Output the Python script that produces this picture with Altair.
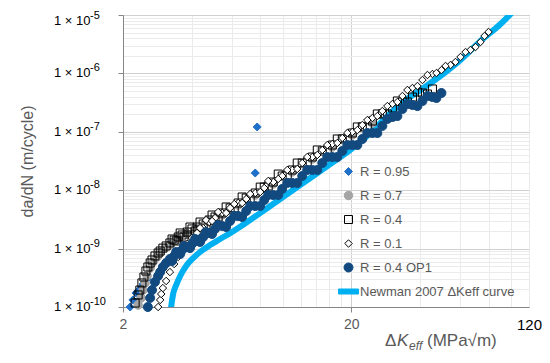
import altair as alt
import pandas as pd

series_names = ["R = 0.95", "R = 0.7", "R = 0.4", "R = 0.1", "R = 0.4 OP1",
                "Newman 2007 ΔKeff curve"]

# ---- data (ΔKeff in MPa√m, da/dN in m/cycle) ----
r095_dk = [2.15, 2.21, 2.28, 2.37, 2.45, 2.55, 2.65, 2.82, 2.99, 3.21, 3.49, 3.82,
           4.22, 4.77, 5.44, 6.39, 7.59, 7.74, 7.59, 9.10, 11.02]
r095_da = [1.0e-10, 1.32e-10, 1.74e-10, 2.03e-10, 2.48e-10, 3.02e-10, 5.04e-10,
           6.90e-10, 9.46e-10, 1.20e-9, 1.52e-9, 1.85e-9, 2.25e-9, 2.97e-9, 3.91e-9,
           5.80e-9, 1.97e-8, 1.21e-7, 8.61e-9, 1.33e-8, 2.13e-8]

r07_dk = [2.33, 2.40, 2.45, 2.50, 2.55, 2.63, 2.71, 2.82, 2.91, 3.06, 3.21, 3.49,
          3.82, 4.22, 4.77, 5.44, 6.39, 7.59, 9.10, 11.02, 13.49, 16.51, 20.20, 24.73]
r07_da = [1.08e-10, 1.43e-10, 1.95e-10, 2.58e-10, 3.40e-10, 4.65e-10, 5.90e-10,
          7.18e-10, 8.41e-10, 1.02e-9, 1.15e-9, 1.46e-9, 1.78e-9, 2.17e-9, 2.85e-9,
          3.76e-9, 5.58e-9, 8.28e-9, 1.28e-8, 2.05e-8, 3.42e-8, 5.49e-8, 8.82e-8,
          1.415e-7]

r04_dk = [2.26, 2.33, 2.37, 2.42, 2.47, 2.52, 2.57, 2.63, 2.68, 2.76, 2.85, 2.91,
          2.99, 3.09, 3.21, 3.35, 3.49, 3.63, 3.82, 4.01, 4.22, 4.49, 4.77, 5.06,
          5.44, 5.89, 6.39, 6.93, 7.59, 8.31, 9.10, 9.96, 11.02, 12.19, 13.49, 14.92,
          16.51, 18.26, 20.20, 22.35, 24.73, 27.35, 30.26, 33.48, 37.04, 40.97, 45.32,
          3.28, 3.42, 3.56, 3.70, 3.93, 4.14, 4.35, 4.62, 4.91, 5.22, 5.66, 6.14,
          6.65, 7.21, 7.98, 8.65, 9.57, 10.48, 11.59, 12.82, 14.19, 15.69, 17.36,
          19.21, 21.25, 23.50, 26.00, 28.76, 31.82, 35.20, 38.96, 43.09]
r04_da = [1.17e-10, 1.61e-10, 1.95e-10, 2.58e-10, 3.26e-10, 4.13e-10, 4.84e-10,
          5.67e-10, 6.38e-10, 7.47e-10, 8.41e-10, 9.10e-10, 1.02e-9, 1.11e-9, 1.25e-9,
          1.40e-9, 1.58e-9, 1.71e-9, 1.92e-9, 2.17e-9, 2.34e-9, 2.64e-9, 3.09e-9,
          3.48e-9, 4.07e-9, 4.96e-9, 6.04e-9, 7.35e-9, 8.96e-9, 1.13e-8, 1.38e-8,
          1.75e-8, 2.22e-8, 2.92e-8, 3.70e-8, 4.69e-8, 5.94e-8, 7.53e-8, 9.54e-8,
          1.21e-7, 1.53e-7, 2.02e-7, 2.56e-7, 3.24e-7, 3.94e-7, 4.62e-7, 5.41e-7,
          1.46e-9, 1.35e-9, 1.85e-9, 1.58e-9, 2.34e-9, 2.00e-9, 2.85e-9, 2.54e-9,
          3.76e-9, 3.48e-9, 5.16e-9, 4.96e-9, 7.65e-9, 7.07e-9, 1.13e-8, 1.18e-8,
          1.89e-8, 1.82e-8, 2.92e-8, 3.04e-8, 4.88e-8, 4.88e-8, 7.53e-8, 7.53e-8,
          1.21e-7, 1.21e-7, 2.02e-7, 2.02e-7, 3.37e-7, 3.24e-7, 4.80e-7, 4.44e-7]

r01_dk = [2.85, 2.91, 2.94, 2.99, 3.09, 3.21, 3.35, 3.49, 3.63, 3.82, 4.01, 4.22,
          4.49, 4.77, 5.06, 5.44, 5.89, 6.39, 6.93, 7.59, 8.31, 9.10, 9.96, 11.02,
          12.19, 13.49, 14.92, 16.51, 18.26, 20.20, 22.35, 24.73, 27.35, 30.26,
          33.48, 37.04, 40.97, 45.32, 49.62, 54.36, 60.14, 66.52, 73.60, 79.78,
          4.35, 4.62, 4.91, 5.22, 5.66, 6.14, 6.65, 7.21, 7.98, 8.65, 9.57, 10.48,
          11.59, 12.82, 14.19, 15.69, 17.36, 19.21, 21.25, 23.50, 26.00, 28.76,
          31.82, 35.20, 38.96, 43.09, 47.18, 51.69, 57.16, 63.25, 69.98, 76.62]
r01_da = [1.0e-10, 1.32e-10, 1.67e-10, 2.11e-10, 2.79e-10, 3.97e-10, 5.45e-10,
          7.18e-10, 9.10e-10, 1.20e-9, 1.52e-9, 1.85e-9, 2.25e-9, 2.85e-9, 3.34e-9,
          4.07e-9, 4.96e-9, 6.04e-9, 7.07e-9, 8.96e-9, 1.09e-8, 1.38e-8, 1.75e-8,
          2.22e-8, 2.92e-8, 3.70e-8, 4.88e-8, 6.18e-8, 7.83e-8, 9.92e-8, 1.31e-7,
          1.72e-7, 2.27e-7, 2.99e-7, 4.10e-7, 5.62e-7, 7.71e-7, 9.77e-7, 1.14e-6,
          1.39e-6, 1.91e-6, 2.52e-6, 3.45e-6, 5.12e-6,
          2.25e-9, 3.09e-9, 2.97e-9, 4.23e-9, 4.07e-9, 5.80e-9, 6.04e-9, 8.61e-9,
          9.31e-9, 1.44e-8, 1.56e-8, 2.22e-8, 2.31e-8, 3.70e-8, 4.01e-8, 5.94e-8,
          6.43e-8, 9.54e-8, 1.07e-7, 1.59e-7, 1.86e-7, 2.76e-7, 3.24e-7, 5.20e-7,
          6.08e-7, 9.39e-7, 1.016e-6, 1.34e-6, 1.57e-6, 2.32e-6, 2.83e-6, 4.37e-6]

op1_dk = [2.57, 2.63, 2.68, 2.76, 2.85, 2.91, 2.99, 3.09, 3.21, 3.35, 3.49, 3.63,
          3.82, 4.01, 4.22, 4.49, 4.77, 5.06, 5.44, 5.89, 6.39, 6.93, 7.59, 8.31,
          9.10, 9.96, 11.02, 12.19, 13.49, 14.92, 16.51, 18.26, 20.20, 22.35, 24.73,
          27.35, 30.26, 33.48, 37.04, 40.97, 45.32, 49.62,
          3.28, 3.42, 3.56, 3.70, 3.93, 4.14, 4.35, 4.62, 4.91, 5.22, 5.66, 6.14,
          6.65, 7.21, 7.98, 8.65, 9.57, 10.48, 11.59, 12.82, 14.19, 15.69, 17.36,
          19.21, 21.25, 23.50, 26.00, 28.76, 31.82, 35.20, 38.96, 43.09, 47.18]
op1_da = [1.0e-10, 1.43e-10, 1.95e-10, 2.68e-10, 3.40e-10, 3.97e-10, 4.84e-10,
          5.67e-10, 6.64e-10, 7.47e-10, 8.41e-10, 9.46e-10, 1.065e-9, 1.20e-9,
          1.35e-9, 1.58e-9, 1.85e-9, 2.17e-9, 2.44e-9, 2.97e-9, 3.62e-9, 4.40e-9,
          5.36e-9, 6.79e-9, 8.28e-9, 1.05e-8, 1.33e-8, 1.75e-8, 2.22e-8, 2.92e-8,
          3.70e-8, 4.69e-8, 5.94e-8, 7.53e-8, 9.54e-8, 1.26e-7, 1.79e-7, 2.46e-7,
          2.88e-7, 3.37e-7, 3.94e-7, 4.62e-7,
          6.13e-10, 8.75e-10, 8.08e-10, 1.11e-9, 1.02e-9, 1.46e-9, 1.30e-9, 1.92e-9,
          1.78e-9, 2.54e-9, 2.34e-9, 3.62e-9, 3.48e-9, 5.36e-9, 5.36e-9, 8.28e-9,
          8.28e-9, 1.33e-8, 1.33e-8, 2.22e-8, 2.22e-8, 3.70e-8, 3.70e-8, 5.94e-8,
          5.94e-8, 9.54e-8, 9.54e-8, 1.66e-7, 1.86e-7, 2.99e-7, 2.76e-7, 4.10e-7,
          3.79e-7]

newman_dk = [3.25, 3.31, 3.42, 3.56, 3.78, 4.06, 4.35, 4.81, 5.33, 6.20, 7.21, 8.83,
             10.80, 13.22, 16.18, 19.80, 24.23, 28.2, 32.80, 40.14, 49.1, 60.14,
             73.60, 90.08, 101.7]
newman_da = [1.0e-10, 1.61e-10, 2.38e-10, 3.40e-10, 5.04e-10, 6.90e-10, 8.75e-10,
             1.15e-9, 1.46e-9, 2.08e-9, 3.09e-9, 5.36e-9, 9.31e-9, 1.62e-8, 2.81e-8,
             4.88e-8, 9.54e-8, 1.72e-7, 2.99e-7, 5.20e-7, 9.03e-7, 1.70e-6, 3.59e-6,
             7.01e-6, 1.126e-5]

x_tick_labels = [2, 20, 120]
y_exponents = [-10, -9, -8, -7, -6, -5]
y_label_base = ["1 × 10"] * 6
y_label_sup = ["-10", "-9", "-8", "-7", "-6", "-5"]

# ---- styling ----
shape_range = ["diamond", "circle", "square", "diamond", "circle",
               "M-2,-0.5L2,-0.5L2,0.5L-2,0.5Z"]
fill_range = ["#1F70C8", "#A5A5A5", "transparent", "#FFFFFF", "#124A80", "#00B0F0"]
stroke_range = ["#1F70C8", "#A5A5A5", "#000000", "#000000", "#124A80", "#00B0F0"]
size_range = [64, 72, 64, 56, 81, 100]

GRAY = "#595959"
FONT = "Liberation Sans"

frames = []
for name, dk, da in [(series_names[0], r095_dk, r095_da),
                     (series_names[1], r07_dk, r07_da),
                     (series_names[2], r04_dk, r04_da),
                     (series_names[3], r01_dk, r01_da),
                     (series_names[4], op1_dk, op1_da)]:
    frames.append(pd.DataFrame({"dk": dk, "dadn": da, "series": name}))
pts = pd.concat(frames, ignore_index=True)
newman = pd.DataFrame({"dk": newman_dk, "dadn": newman_da})
ylabels = pd.DataFrame({"dadn": [float(f"1e{e}") for e in y_exponents],
                        "base": y_label_base, "sup": y_label_sup})
ylabels_low = ylabels.iloc[:-1]
ylabels_top = ylabels.iloc[-1:]

# gridline positions (Excel-style log minor units)
x_grid = [2, 4, 6, 8, 10, 12, 14, 16, 18, 20, 40, 60, 80, 100, 120]
y_grid = []
for e in y_exponents[:-1]:
    for k in range(1, 10):
        y_grid.append(float(f"{k}e{e}"))
y_grid.append(1e-5)

x_label_test = " || ".join(f"datum.value == {v}" for v in x_tick_labels)
x_major_test = "datum.value == 2 || datum.value == 20"
y_major_test = " || ".join(f"abs(datum.value * 1e{-e} - 1) < 1e-6" for e in y_exponents)

x_axis = alt.Axis(
    values=x_grid, title=None,
    labelExpr=f"({x_label_test}) ? toString(datum.value) : ''",
    labelOverlap=False, labelFlush=False, labelFont=FONT,
    labelFontSize={"condition": {"test": "datum.value == 120", "value": 15}, "value": 14},
    labelColor={"condition": {"test": "datum.value == 120", "value": "#000000"}, "value": GRAY},
    labelPadding=5, tickSize=5, tickColor="#868686",
    tickOpacity={"condition": {"test": x_major_test, "value": 1}, "value": 0},
    gridColor={"condition": {"test": x_major_test, "value": "#D0D0D0"}, "value": "#EBEBEB"},
    domainColor="#868686",
)
y_axis = alt.Axis(
    values=y_grid, title="da/dN (m/cycle)", labels=False,
    tickSize=5, tickColor="#868686",
    tickOpacity={"condition": {"test": y_major_test, "value": 1}, "value": 0},
    gridColor={"condition": {"test": y_major_test, "value": "#D0D0D0"}, "value": "#EBEBEB"},
    domainColor="#868686",
    titleFont=FONT, titleFontSize=16, titleColor=GRAY, titleFontWeight="normal",
    titleX=-96, titleY=146, titleAngle=270, titleAlign="center", titleBaseline="middle",
)

legend = alt.Legend(title=None, orient="none", legendX=219, legendY=150,
                    labelFont=FONT, labelFontSize=13, labelColor=GRAY, rowPadding=10,
                    symbolStrokeWidth=1, labelOffset=5, padding=0, offset=0,
                    labelLimit=0)

xs = alt.Scale(type="log", domain=[2, 120], nice=False)
ys = alt.Scale(type="log", domain=[1e-10, 1e-5], nice=False)
x_enc = alt.X("dk:Q", scale=xs, axis=x_axis)
y_enc = alt.Y("dadn:Q", scale=ys, axis=y_axis)

line = alt.Chart(newman).mark_line(
    strokeWidth=6, color="#00B0F0", clip=True, interpolate="monotone", strokeCap="round"
).encode(x=x_enc, y=y_enc)

points = alt.Chart(pts).mark_point(opacity=1, strokeWidth=1).encode(
    x=x_enc, y=y_enc,
    shape=alt.Shape("series:N", scale=alt.Scale(domain=series_names, range=shape_range),
                    legend=legend),
    fill=alt.Fill("series:N", scale=alt.Scale(domain=series_names, range=fill_range),
                  legend=legend),
    stroke=alt.Stroke("series:N", scale=alt.Scale(domain=series_names, range=stroke_range),
                      legend=legend),
    size=alt.Size("series:N", scale=alt.Scale(type="ordinal", domain=series_names,
                                              range=size_range), legend=legend),
)


def ylab_layers(df, shift):
    base = alt.Chart(df).mark_text(
        align="left", baseline="middle", fontSize=13, font=FONT, color="#000000",
        dy=shift
    ).encode(x=alt.value(-69), y=alt.Y("dadn:Q", scale=ys, axis=y_axis), text="base:N")
    sup = alt.Chart(df).mark_text(
        align="left", baseline="middle", fontSize=11, font=FONT, color="#000000",
        dy=shift - 5, dx=1
    ).encode(x=alt.value(-34), y=alt.Y("dadn:Q", scale=ys, axis=y_axis), text="sup:N")
    return [base, sup]


def label(txt, x, y, size=17, style="normal"):
    return alt.Chart(alt.Data(values=[{"a": 1}])).mark_text(
        text=txt, align="left", baseline="alphabetic", fontSize=size, font=FONT,
        fontStyle=style, color=GRAY
    ).encode(x=alt.value(x), y=alt.value(y))


xtitle = [
    label("Δ", 262, 331),
    label("K", 274, 331, style="italic"),
    label("eff", 286, 335, size=12, style="italic"),
    label("(MPa√m)", 304, 331),
]

chart = alt.layer(line, points, *ylab_layers(ylabels_low, 0),
                  *ylab_layers(ylabels_top, 6), *xtitle).properties(
    width=406, height=292,
    autosize=alt.AutoSizeParams(type="none"),
    padding={"left": 115, "top": 7, "right": 13, "bottom": 45},
).configure(font=FONT).configure_view(stroke="#868686", strokeWidth=1)

chart.save("out.html", embed_options={"renderer": "svg", "actions": False})
